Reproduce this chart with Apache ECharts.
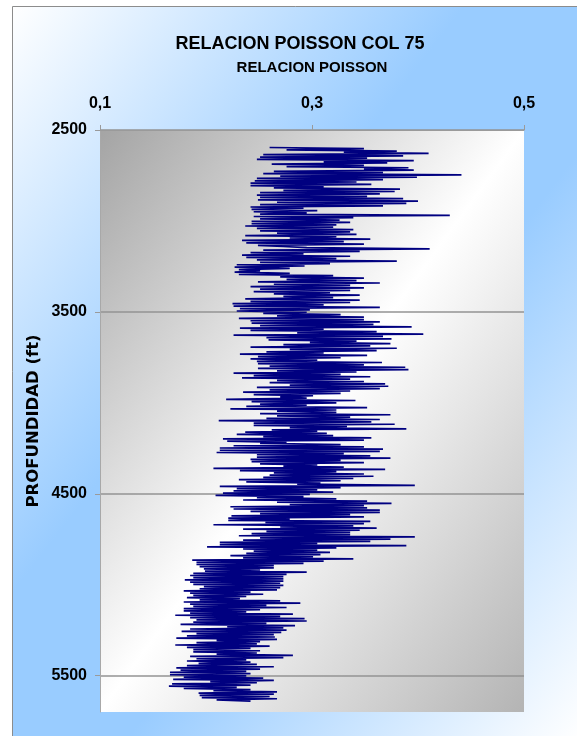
<!DOCTYPE html>
<html>
<head>
<meta charset="utf-8">
<script src="https://cdn.jsdelivr.net/npm/echarts@6/dist/echarts.min.js"></script>
<style>
  html, body { margin: 0; padding: 0; background: #ffffff; }
  #chart { width: 577px; height: 736px; }
</style>
</head>
<body>
<div id="chart"></div>
<script>
// Poisson's ratio log, well COL 75. Values are grouped by depth interval (ft);
// inside an interval the samples are evenly spaced in depth.
const X_TICKS = [0.1, 0.3, 0.5];
const DEPTH_TICKS = [2500, 3500, 4500, 5500];

const INTERVAL_TOPS = [2593, 3077, 3599, 4121, 4643, 5165];
const INTERVAL_BASE = 5643;

const poisson_2593_3077 = [
  0.260,0.349, 0.276,0.380, 0.330,0.410, 0.254,0.386, 0.251,0.352, 0.248,0.396,
  0.311,0.371, 0.262,0.349, 0.276,0.391, 0.349,0.396, 0.264,0.367, 0.254,0.441,
  0.270,0.399, 0.248,0.367, 0.246,0.342, 0.242,0.356, 0.242,0.311, 0.264,0.383,
  0.273,0.378, 0.251,0.364, 0.248,0.352, 0.251,0.386, 0.249,0.400, 0.267,0.389,
  0.251,0.367, 0.242,0.292, 0.243,0.305, 0.245,0.295, 0.251,0.430, 0.245,0.339,
  0.251,0.326, 0.243,0.336, 0.243,0.323, 0.237,0.320, 0.248,0.339, 0.251,0.336,
  0.267,0.342
];
const poisson_3077_3599 = [
  0.237,0.323, 0.279,0.355, 0.234,0.330, 0.238,0.349, 0.249,0.273, 0.295,0.411,
  0.254,0.345, 0.242,0.292, 0.234,0.336, 0.238,0.323, 0.248,0.380, 0.251,0.317,
  0.229,0.293, 0.227,0.279, 0.231,0.251, 0.227,0.279, 0.231,0.320, 0.270,0.349,
  0.276,0.342, 0.249,0.364, 0.264,0.336, 0.242,0.349, 0.251,0.336, 0.245,0.317,
  0.264,0.345, 0.273,0.320, 0.237,0.345, 0.242,0.336, 0.225,0.311, 0.226,0.364,
  0.232,0.298, 0.229,0.295, 0.254,0.327, 0.267,0.349, 0.231,0.349, 0.242,0.364,
  0.243,0.358, 0.251,0.394, 0.232,0.311
];
const poisson_3599_4121 = [
  0.242,0.361, 0.286,0.405, 0.226,0.367, 0.257,0.375, 0.259,0.342, 0.298,0.374,
  0.273,0.355, 0.242,0.380, 0.279,0.361, 0.257,0.311, 0.232,0.352, 0.249,0.327,
  0.242,0.305, 0.248,0.366, 0.249,0.349, 0.260,0.388, 0.249,0.391, 0.267,0.342,
  0.226,0.327, 0.245,0.355, 0.234,0.336, 0.267,0.349, 0.260,0.369, 0.279,0.372,
  0.248,0.364, 0.260,0.336, 0.235,0.327, 0.245,0.301, 0.270,0.295, 0.219,0.341,
  0.243,0.323, 0.251,0.295, 0.238,0.352, 0.223,0.323, 0.267,0.323, 0.251,0.374,
  0.267,0.336, 0.257,0.364, 0.212,0.356, 0.245,0.378
];
const poisson_4121_4643 = [
  0.245,0.333, 0.279,0.389, 0.262,0.305, 0.237,0.314, 0.229,0.320, 0.254,0.356,
  0.216,0.349, 0.220,0.276, 0.251,0.327, 0.226,0.349, 0.213,0.367, 0.213,0.364,
  0.210,0.330, 0.248,0.355, 0.248,0.374, 0.242,0.327, 0.243,0.349, 0.251,0.305,
  0.273,0.330, 0.207,0.369, 0.232,0.323, 0.264,0.349, 0.260,0.358, 0.254,0.339,
  0.231,0.327, 0.238,0.308, 0.286,0.397, 0.213,0.327, 0.229,0.305, 0.226,0.320,
  0.216,0.298, 0.209,0.292, 0.248,0.323, 0.235,0.352, 0.267,0.375, 0.279,0.349,
  0.223,0.352, 0.226,0.364, 0.242,0.364, 0.251,0.336, 0.224,0.349, 0.221,0.279
];
const poisson_4643_5165 = [
  0.221,0.355, 0.256,0.349, 0.207,0.339, 0.270,0.361, 0.235,0.345, 0.257,0.336,
  0.243,0.336, 0.231,0.397, 0.251,0.374, 0.235,0.355, 0.213,0.305, 0.213,0.389,
  0.201,0.323, 0.235,0.305, 0.245,0.317, 0.238,0.308, 0.223,0.301, 0.235,0.339,
  0.187,0.311, 0.191,0.292, 0.191,0.264, 0.194,0.264, 0.198,0.251, 0.199,0.295,
  0.188,0.276, 0.185,0.273, 0.188,0.273, 0.180,0.273, 0.185,0.270, 0.188,0.273,
  0.198,0.270, 0.194,0.267, 0.179,0.242, 0.185,0.254, 0.188,0.238, 0.182,0.232,
  0.194,0.270, 0.179,0.289, 0.185,0.257, 0.188,0.276, 0.179,0.251, 0.179,0.238,
  0.185,0.282
];
const poisson_5165_5643 = [
  0.171,0.270, 0.185,0.293, 0.191,0.295, 0.188,0.257, 0.176,0.284, 0.220,0.273,
  0.185,0.276, 0.177,0.271, 0.191,0.264, 0.182,0.265, 0.172,0.267, 0.210,0.251,
  0.191,0.248, 0.171,0.260, 0.182,0.242, 0.188,0.251, 0.188,0.248, 0.210,0.282,
  0.185,0.273, 0.191,0.238, 0.182,0.242, 0.193,0.248, 0.182,0.264, 0.172,0.251,
  0.176,0.238, 0.166,0.242, 0.166,0.238, 0.179,0.254, 0.169,0.264, 0.204,0.248,
  0.168,0.242, 0.165,0.229, 0.179,0.242, 0.207,0.267, 0.193,0.264, 0.194,0.260,
  0.196,0.267, 0.210,0.242
];

const INTERVAL_VALUES = [
  poisson_2593_3077, poisson_3077_3599, poisson_3599_4121,
  poisson_4121_4643, poisson_4643_5165, poisson_5165_5643
];

// [poisson, depth] pairs for the log curve
const logPoints = [];
INTERVAL_VALUES.forEach((vals, k) => {
  const top = INTERVAL_TOPS[k];
  const base = k + 1 < INTERVAL_TOPS.length ? INTERVAL_TOPS[k + 1] : INTERVAL_BASE;
  const step = (base - top) / vals.length;
  vals.forEach((v, i) => logPoints.push([v, top + (i + 0.5) * step]));
});

const FONT = "'Liberation Sans', Arial, sans-serif";
const FONT_AXIS_NAME = "'DejaVu Sans', 'Liberation Sans', sans-serif";

// Gradient helpers: bands run parallel to the anti-diagonal of the box.
function diagonalGradient(x, y, w, h, stops) {
  const len = Math.sqrt(w * w + h * h);
  const reach = 2 * w * h / len;
  return new echarts.graphic.LinearGradient(
    x, y, x + h / len * reach, y + w / len * reach, stops, true);
}

const GRID = { left: 100, top: 130, width: 424, height: 582 };

const chart = echarts.init(document.getElementById('chart'), null, { renderer: 'canvas' });

chart.setOption({
  animation: false,
  backgroundColor: '#ffffff',
  graphic: [{
    type: 'rect',
    z: -100,
    silent: true,
    shape: { x: 12.5, y: 6.5, width: 600, height: 760 },
    style: {
      fill: diagonalGradient(12, 6, 566, 735, [
        { offset: 0, color: '#ffffff' },
        { offset: 0.4, color: '#99ccff' },
        { offset: 0.6, color: '#99ccff' },
        { offset: 1, color: '#ffffff' }
      ]),
      stroke: '#8c8c8c',
      lineWidth: 1
    }
  }],
  title: {
    text: 'RELACION POISSON COL 75',
    left: 295,
    textAlign: 'center',
    top: 30,
    textStyle: { fontFamily: FONT, fontWeight: 'bold', fontSize: 18, color: '#000000' }
  },
  grid: {
    left: GRID.left, top: GRID.top, width: GRID.width, height: GRID.height,
    show: true,
    borderWidth: 0,
    backgroundColor: diagonalGradient(GRID.left, GRID.top, GRID.width, GRID.height, [
      { offset: 0, color: '#a4a4a4' },
      { offset: 0.5, color: '#ffffff' },
      { offset: 1, color: '#b4b4b4' }
    ])
  },
  xAxis: {
    type: 'value',
    position: 'top',
    min: 0.1,
    max: 0.5,
    name: 'RELACION POISSON',
    nameLocation: 'middle',
    nameGap: 55,
    nameTextStyle: { fontFamily: FONT, fontWeight: 'bold', fontSize: 15, color: '#000000' },
    axisLine: { show: true, lineStyle: { color: '#9a9a9a', width: 1 } },
    axisTick: { show: true, inside: false, length: 5, customValues: X_TICKS, lineStyle: { color: '#9a9a9a' } },
    axisLabel: {
      customValues: X_TICKS,
      formatter: v => v.toFixed(1).replace('.', ','),
      fontFamily: FONT, fontWeight: 'bold', fontSize: 16, color: '#000000', margin: 18
    },
    splitLine: { show: false }
  },
  yAxis: {
    type: 'value',
    inverse: true,
    min: 2500,
    max: 5700,
    name: 'PROFUNDIDAD (ft)',
    nameLocation: 'middle',
    nameRotate: 90,
    nameGap: 58,
    nameMoveOverlap: false,
    nameTextStyle: { fontFamily: FONT_AXIS_NAME, fontWeight: 'bold', fontSize: 16.5, color: '#000000' },
    axisLine: { show: true, lineStyle: { color: '#a8a8a8', width: 1 } },
    axisTick: { show: true, inside: false, length: 5, customValues: DEPTH_TICKS, lineStyle: { color: '#9a9a9a' } },
    axisLabel: {
      customValues: DEPTH_TICKS,
      formatter: v => String(v),
      fontFamily: FONT, fontWeight: 'bold', fontSize: 16, color: '#000000', margin: 13
    },
    splitLine: { show: true, lineStyle: { color: '#939393', width: 1.5 } }
  },
  series: [{
    type: 'line',
    data: logPoints,
    showSymbol: false,
    symbol: 'none',
    lineStyle: { color: '#000080', width: 1.7 },
    z: 5
  }]
});
</script>
</body>
</html>
